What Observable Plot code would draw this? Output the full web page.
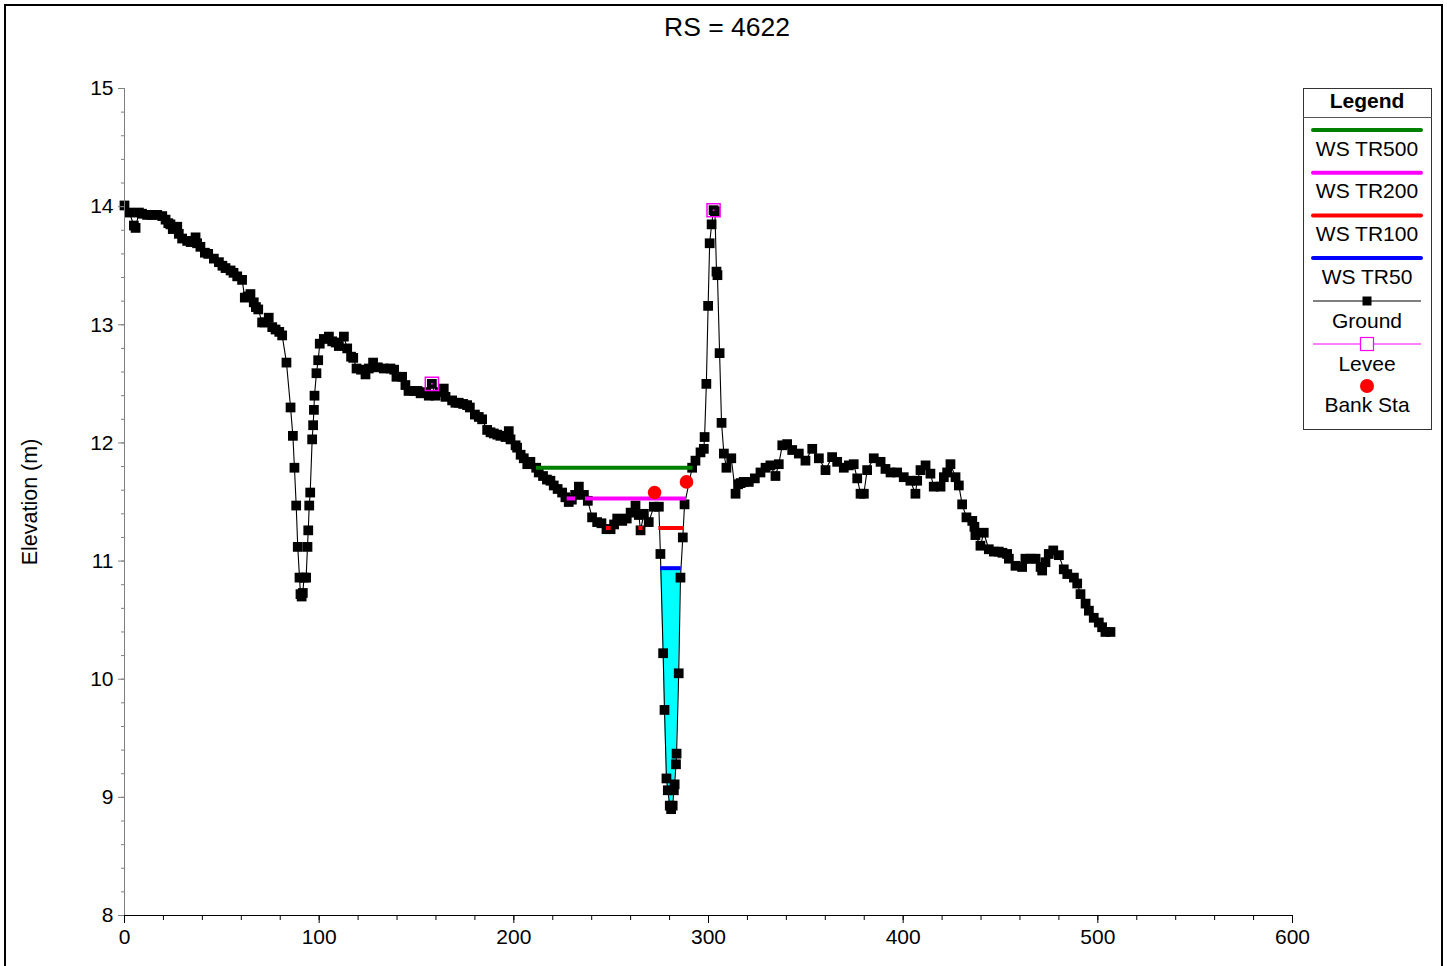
<!DOCTYPE html>
<html>
<head>
<meta charset="utf-8">
<script src="https://cdn.jsdelivr.net/npm/d3@7"></script>
<script src="https://cdn.jsdelivr.net/npm/@observablehq/plot@0.6"></script>
<style>
html,body{margin:0;padding:0;background:#fff;}
#wrap{position:relative;width:1447px;height:966px;overflow:hidden;font-family:"Liberation Sans",Arial,sans-serif;background:#fff;}
#chart{position:absolute;left:0;top:0;}
#overlay{position:absolute;left:0;top:0;pointer-events:none;}
#frame{position:absolute;left:4px;top:4px;width:1439px;height:980px;border:2px solid #000;box-sizing:border-box;}
</style>
</head>
<body>
<div id="wrap">
  <div id="chart"></div>
  <svg id="overlay" width="1447" height="966"></svg>
  <div id="frame"></div>
</div>
<script>
// ---------------- data ----------------
const title = "RS = 4622";
const yLabel = "Elevation (m)";

const station = [
0,2.5,4.8,5.7,7.4,9,11.6,14,16.8,19.4,21.1,22.5,23.6,24.8,27.1,27.9,29.6,32.2,34,36.5,37.3,39,41.3,43,45.9,48.5,50.3,51.9,54.5,56,57.9,60.4,61.8,63.3,64.7,66.4,67.5,68.7,70.7,72,74.1,75.9,77.6,79.5,81,83.2,85.3,86.5,87.3,88.2,89,89.9,90.4,91,91.6,92.2,93.3,94,94.4,94.9,95.4,96.4,96.9,97.3,97.6,98.6,99.5,100.3,102.4,105,106.7,108.5,110.1,112.7,114.4,116.4,117.5,119.2,121.5,123.8,125.5,127.7,130.1,133.2,136.6,138.5,139.7,142.6,144.3,145.9,148.6,150.5,152.1,154.5,156.3,157.9,159.8,162,164,164.9,168.3,170,171.7,174,176,177.4,180,182,183.7,186.3,188,189.7,191.5,193.1,195.7,197.4,198.3,200.9,201.7,203.5,205.1,206.9,208.5,211.5,212.8,215,217,218.8,220.5,222.5,224.8,226.5,228.2,229.8,231.5,233.4,236,238,240.2,242.8,245,247.6,249.7,251.5,253.1,255.7,258,260,262.5,264.2,265.1,266.8,269.3,271.9,274.5,275.3,276.7,277.4,278.4,279.1,280.1,280.8,281.6,282.2,282.6,283.3,283.6,284.7,285.6,286.8,287.7,291.6,293.3,295.9,297.6,298.0,298.9,299.8,300.6,301.6,302.6,303.3,304.1,304.6,305.7,306.7,307.9,309.2,311.7,313.9,315.2,316.5,318.1,320.7,323.8,326.7,329.3,331.8,334.4,336.1,337.9,340.4,343,346.4,349.8,353.3,356.7,360.1,363.5,366.1,369.5,372.1,374.6,376.4,378.1,379.8,381.5,384.9,388.4,390.9,393.5,396.9,400.3,403.7,406.3,407.2,408.9,411.5,414,415.7,419.2,420.9,422.6,424.3,426.9,428.6,430.3,432.5,435.5,436.6,437.1,439.7,441.4,444,446.6,449.1,451,453.4,454.3,457.7,461.1,462.8,465.5,468,470.6,471.4,473.1,474.8,477.1,480,482.5,484.3,487.7,489.4,491.1,493.7,495.4,497.9,500.5,502.2,503.9,506.5
];
const elevation = [
14.01,13.95,13.84,13.82,13.95,13.94,13.93,13.93,13.93,13.92,13.89,13.86,13.85,13.81,13.83,13.77,13.73,13.71,13.70,13.74,13.69,13.66,13.61,13.60,13.56,13.53,13.50,13.48,13.46,13.44,13.41,13.38,13.23,13.24,13.26,13.19,13.15,13.13,13.02,13.02,13.06,12.98,12.96,12.94,12.91,12.68,12.30,12.06,11.79,11.47,11.12,10.86,10.72,10.70,10.73,10.86,10.86,11.12,11.26,11.47,11.58,12.03,12.15,12.28,12.40,12.59,12.70,12.84,12.88,12.90,12.86,12.85,12.82,12.90,12.80,12.73,12.72,12.63,12.62,12.58,12.63,12.68,12.64,12.63,12.63,12.62,12.56,12.56,12.49,12.44,12.44,12.44,12.42,12.43,12.40,12.50,12.40,12.43,12.46,12.39,12.36,12.34,12.34,12.33,12.32,12.30,12.24,12.22,12.20,12.11,12.09,12.08,12.07,12.06,12.05,12.10,12.03,11.98,11.96,11.90,11.87,11.82,11.84,11.79,11.75,11.72,11.69,11.68,11.64,11.61,11.58,11.54,11.50,11.52,11.56,11.63,11.56,11.51,11.37,11.33,11.32,11.27,11.27,11.31,11.36,11.34,11.36,11.41,11.47,11.39,11.26,11.40,11.33,11.46,11.46,11.06,10.22,9.74,9.16,9.06,8.93,8.90,8.93,9.06,9.11,9.28,9.37,10.05,10.86,11.20,11.48,11.79,11.85,11.92,11.95,12.05,12.50,13.16,13.69,13.85,13.97,13.96,13.45,13.42,12.76,12.17,11.91,11.79,11.87,11.57,11.65,11.66,11.67,11.67,11.70,11.75,11.79,11.81,11.72,11.82,11.98,11.99,11.94,11.91,11.85,11.95,11.87,11.77,11.88,11.84,11.79,11.81,11.82,11.70,11.57,11.57,11.77,11.87,11.84,11.78,11.75,11.75,11.71,11.68,11.57,11.68,11.77,11.81,11.74,11.63,11.63,11.71,11.75,11.82,11.71,11.64,11.48,11.37,11.34,11.29,11.22,11.13,11.24,11.10,11.08,11.08,11.07,11.06,11.02,10.96,10.95,11.02,11.02,11.02,10.95,10.92,10.99,11.06,11.09,11.05,10.93,10.89,10.86,10.81,10.72,10.64,10.58,10.52,10.48,10.44,10.40,10.40
];

const leveeStation = [157.9, 302.6];
const leveeElevation = [12.50, 13.97];

const bankStation = [272.3, 288.7];
const bankElevation = [11.58, 11.67];

const profileNames = ["WS TR500", "WS TR200", "WS TR100", "WS TR50"];
const profileElevation = [11.79, 11.53, 11.28, 10.94];
const profileFrom = [[211.6], [227.4, 236.8], [247.6, 264.2, 274.5], [275.4]];
const profileTo   = [[292.1], [231.7, 288.7], [250.0, 266.4, 287.7], [286.0]];

const xTicks = [0, 100, 200, 300, 400, 500, 600];
const yTicks = [8, 9, 10, 11, 12, 13, 14, 15];

// ---------------- derived ----------------
const profileColors = ["#008000", "#FF00FF", "#FF0000", "#0000FF"];
const ground = station.map((x, i) => ({x, y: elevation[i]}));
const levee = leveeStation.map((x, i) => ({x, y: leveeElevation[i]}));
const bank = bankStation.map((x, i) => ({x, y: bankElevation[i]}));

function wetPolygon(xs, ys, ws, xLo, xHi) {
  let iMin = -1;
  for (let i = 0; i < xs.length; i++)
    if (xs[i] >= xLo && xs[i] <= xHi && (iMin < 0 || ys[i] < ys[iMin])) iMin = i;
  let l = iMin; while (l > 0 && ys[l - 1] < ws) l--;
  let r = iMin; while (r < xs.length - 1 && ys[r + 1] < ws) r++;
  const cross = (a, b) => xs[a] + (ws - ys[a]) / (ys[b] - ys[a]) * (xs[b] - xs[a]);
  const pts = [{x: cross(l - 1, l), g: ws, w: ws}];
  for (let i = l; i <= r; i++) pts.push({x: xs[i], g: ys[i], w: ws});
  pts.push({x: cross(r, r + 1), g: ws, w: ws});
  return pts;
}
const lowIdx = profileElevation.length - 1;
const wet = wetPolygon(station, elevation, profileElevation[lowIdx],
  profileFrom[lowIdx][0], profileTo[lowIdx][profileTo[lowIdx].length - 1]);

const wsMarks = profileNames.map((name, k) => {
  const segs = profileFrom[k].map((x1, j) => ({x1, x2: profileTo[k][j], y: profileElevation[k]}));
  return Plot.ruleY(segs, {y: "y", x1: "x1", x2: "x2", stroke: profileColors[k], strokeWidth: 4});
});

const yMinor = d3.range(80, 151, 2).map(v => v / 10);
const xMinor = d3.range(0, 601, 20);

const chart = Plot.plot({
  width: 1447,
  height: 966,
  marginLeft: 124,
  marginRight: 155,
  marginTop: 88,
  marginBottom: 51,
  style: {fontFamily: "'Liberation Sans', Arial, sans-serif", background: "transparent", color: "#000"},
  x: {domain: [0, 600]},
  y: {domain: [8, 15]},
  marks: [
    Plot.areaY(wet, {x: "x", y1: "g", y2: "w", fill: "#00FFFF"}),
    Plot.line(ground, {x: "x", y: "y", stroke: "#000", strokeWidth: 1.1}),
    Plot.dot(ground, {x: "x", y: "y", symbol: "square", r: 5.5, fill: "#000"}),
    ...wsMarks.slice().reverse(),
    Plot.dot(levee, {x: "x", y: "y", symbol: "square", r: 7.4, stroke: "#FF00FF", fill: "none", strokeWidth: 1.5}),
    Plot.dot(levee, {x: "x", y: "y", r: 1, fill: "#FF00FF"}),
    Plot.dot(bank, {x: "x", y: "y", r: 6.8, fill: "#FF0000"}),
    // axes
    Plot.axisY(yMinor, {anchor: "left", tickSize: 3, text: null, stroke: "#808080"}),
    Plot.axisY(yTicks, {anchor: "left", tickSize: 6, text: null, stroke: "#808080"}),
    Plot.axisY(yTicks, {anchor: "left", tickSize: 0, tickPadding: 11, fontSize: 21, label: null, tickFormat: d => String(d)}),
    Plot.axisX(xMinor, {anchor: "bottom", tickSize: 5, text: null, stroke: "#000"}),
    Plot.axisX(xTicks, {anchor: "bottom", tickSize: 8, text: null, stroke: "#000"}),
    Plot.axisX(xTicks, {anchor: "bottom", tickSize: 0, tickPadding: 14, fontSize: 21, label: null, tickFormat: d => String(d)}),
    Plot.ruleX([0], {stroke: "#808080", strokeWidth: 1}),
    Plot.ruleY([8], {stroke: "#000", strokeWidth: 1.2}),
    Plot.text([yLabel], {frameAnchor: "left", dx: -94, rotate: -90, fontSize: 21.5, textAnchor: "middle", fill: "#000"})
  ]
});
document.getElementById("chart").appendChild(chart);

// ---------------- title & legend overlay ----------------
const ov = d3.select("#overlay");
ov.append("text").attr("x", 727).attr("y", 36).attr("text-anchor", "middle")
  .attr("font-size", 26.5).attr("font-family", "'Liberation Sans', Arial, sans-serif").text(title);

const lg = ov.append("g").attr("transform", "translate(1303,88)")
  .attr("font-family", "'Liberation Sans', Arial, sans-serif").attr("font-size", 21);
lg.append("rect").attr("x", 0.5).attr("y", 0.5).attr("width", 128).attr("height", 341)
  .attr("fill", "#fff").attr("stroke", "#333").attr("stroke-width", 1);
lg.append("text").attr("x", 64).attr("y", 20).attr("text-anchor", "middle").attr("font-weight", "bold").text("Legend");
lg.append("line").attr("x1", 0).attr("x2", 129).attr("y1", 29.5).attr("y2", 29.5).attr("stroke", "#555");
const cx = 64;
profileNames.forEach((name, k) => {
  const yl = 42 + k * 42.7;
  lg.append("line").attr("x1", 10).attr("x2", 118).attr("y1", yl).attr("y2", yl)
    .attr("stroke", profileColors[k]).attr("stroke-width", 4).attr("stroke-linecap", "round");
  lg.append("text").attr("x", cx).attr("y", yl + 25.5).attr("text-anchor", "middle").text(name);
});
// Ground
lg.append("line").attr("x1", 10).attr("x2", 118).attr("y1", 213).attr("y2", 213).attr("stroke", "#000").attr("stroke-width", 1);
lg.append("rect").attr("x", cx - 4.5).attr("y", 208.5).attr("width", 9).attr("height", 9).attr("fill", "#000");
lg.append("text").attr("x", cx).attr("y", 239.5).attr("text-anchor", "middle").text("Ground");
// Levee
lg.append("line").attr("x1", 10).attr("x2", 118).attr("y1", 256).attr("y2", 256).attr("stroke", "#FF00FF").attr("stroke-width", 1);
lg.append("rect").attr("x", cx - 6.5).attr("y", 249.5).attr("width", 13).attr("height", 13).attr("fill", "#fff").attr("stroke", "#FF00FF").attr("stroke-width", 1.2);
lg.append("text").attr("x", cx).attr("y", 282.5).attr("text-anchor", "middle").text("Levee");
// Bank Sta
lg.append("circle").attr("cx", cx).attr("cy", 298).attr("r", 7).attr("fill", "#FF0000");
lg.append("text").attr("x", cx).attr("y", 323.5).attr("text-anchor", "middle").text("Bank Sta");
</script>
</body>
</html>
